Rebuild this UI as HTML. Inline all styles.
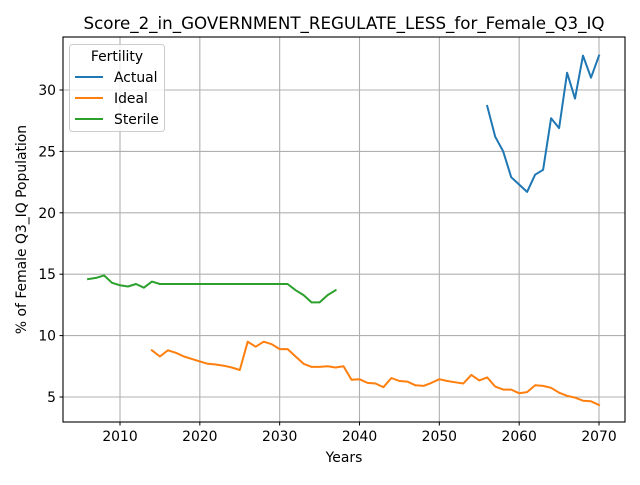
<!DOCTYPE html>
<html><head><meta charset="utf-8"><style>
body{margin:0;background:#fff;font-family:"Liberation Sans","DejaVu Sans",sans-serif}
svg text{font-family:"DejaVu Sans","Liberation Sans",sans-serif}
</style></head><body>
<svg id="c" width="640" height="480" xmlns="http://www.w3.org/2000/svg"></svg>
<script>
const xTicks=[2010,2020,2030,2040,2050,2060,2070];
const yTicks=[5,10,15,20,25,30];
const actualStart=2056;
const actualVals=[28.7,26.2,25.0,22.9,22.3,21.7,23.1,23.5,27.7,26.9,31.4,29.3,32.8,31.0,32.8];
const idealStart=2014;
const idealVals=[8.8,8.3,8.8,8.6,8.3,8.1,7.9,7.7,7.65,7.55,7.4,7.2,9.5,9.1,9.5,9.3,8.9,8.9,8.3,7.7,7.45,7.45,7.5,7.4,7.5,6.4,6.45,6.15,6.1,5.8,6.55,6.3,6.25,5.95,5.9,6.15,6.45,6.3,6.2,6.1,6.8,6.35,6.6,5.85,5.6,5.6,5.3,5.4,5.95,5.9,5.75,5.35,5.1,4.95,4.7,4.65,4.35];
const sterileStart=2006;
const sterileVals=[14.6,14.7,14.9,14.3,14.1,14.0,14.2,13.9,14.4,14.2,14.2,14.2,14.2,14.2,14.2,14.2,14.2,14.2,14.2,14.2,14.2,14.2,14.2,14.2,14.2,14.2,13.7,13.3,12.7,12.7,13.3,13.7];
const L=63,R=625,T=37,B=422;
const X=v=>120+(v-2010)*(479/60);
const Y=v=>397-(v-5)*(307/25);
const svg=document.getElementById('c');
const NS='http://www.w3.org/2000/svg';
function mk(t,a,p){const e=document.createElementNS(NS,t);for(const k in a)e.setAttribute(k,a[k]);(p||svg).appendChild(e);return e;}
xTicks.forEach(v=>{
 const g=mk('line',{x1:X(v),x2:X(v),y1:T,y2:B,stroke:'#b0b0b0','stroke-width':1.1});
 
 
 mk('line',{x1:X(v),x2:X(v),y1:B,y2:B+3.5,stroke:'#000','stroke-width':1});
 const t=mk('text',{x:X(v),y:B+19,'text-anchor':'middle','font-size':13.9});t.textContent=v;
 
 
});
yTicks.forEach(v=>{
 const g=mk('line',{x1:L,x2:R,y1:Y(v),y2:Y(v),stroke:'#b0b0b0','stroke-width':1.1});
 
 
 mk('line',{x1:L-3.5,x2:L,y1:Y(v),y2:Y(v),stroke:'#000','stroke-width':1});
 const t=mk('text',{x:L-7,y:Y(v)+5,'text-anchor':'end','font-size':13.9});t.textContent=v;
 
 
});
function series(start,vals,color,name){
 const d=vals.map((v,i)=>(i?'L':'M')+X(start+i).toFixed(1)+','+Y(v).toFixed(1)).join('');
 const p=mk('path',{d:d,fill:'none',stroke:color,'stroke-width':2,'stroke-linejoin':'round','stroke-linecap':'square'});
 
 
}
series(actualStart,actualVals,'#1f77b4','actual-line');
series(idealStart,idealVals,'#ff7f0e','ideal-line');
series(sterileStart,sterileVals,'#2ca02c','sterile-line');
const fr=mk('rect',{x:L,y:T,width:R-L,height:B-T,fill:'none',stroke:'#000','stroke-width':1.1});


const ti=mk('text',{x:(L+R)/2,y:T-8,'text-anchor':'middle','font-size':16.7});ti.textContent='Score_2_in_GOVERNMENT_REGULATE_LESS_for_Female_Q3_IQ';


const xl=mk('text',{x:(L+R)/2,y:462,'text-anchor':'middle','font-size':13.9});xl.textContent='Years';


const yl=mk('text',{x:0,y:0,'text-anchor':'middle','font-size':13.9,transform:`translate(26,${(T+B)/2}) rotate(-90)`});yl.textContent='% of Female Q3_IQ Population';


const lg=mk('g',{});


mk('rect',{x:69.5,y:44.5,width:95,height:87,rx:3,fill:'#fff','fill-opacity':0.8,stroke:'#ccc'},lg);
const lt=mk('text',{x:117,y:61,'text-anchor':'middle','font-size':13.9},lg);lt.textContent='Fertility';
[['Actual','#1f77b4'],['Ideal','#ff7f0e'],['Sterile','#2ca02c']].forEach((e,i)=>{
 const y=77+i*21;
 const g=mk('g',{},lg);
 
 
 mk('line',{x1:75,x2:103,y1:y,y2:y,stroke:e[1],'stroke-width':2},g);
 const t=mk('text',{x:114,y:y+5,'font-size':13.9},g);t.textContent=e[0];
});
</script>
</body></html>
